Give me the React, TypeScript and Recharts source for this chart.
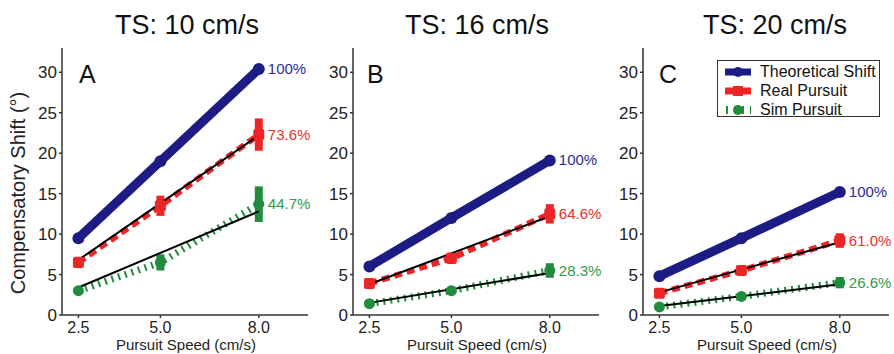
import { ComposedChart, Line, XAxis, YAxis, ErrorBar, Legend } from 'recharts';

// Pursuit speeds (cm/s) on the x axis
const speeds = [2.5, 5.0, 8.0];
const fitSpeeds = [2.5, 8.0];

const panelTitles = ['TS: 10 cm/s', 'TS: 16 cm/s', 'TS: 20 cm/s'];
const panelLetters = ['A', 'B', 'C'];

// compensatory shift (deg), one row per panel
const theoretical = [
  [9.5, 19.0, 30.4],
  [6.0, 12.0, 19.1],
  [4.8, 9.5, 15.2],
];
const realMean = [
  [6.5, 13.5, 22.3],
  [3.9, 7.0, 12.5],
  [2.7, 5.5, 9.2],
];
const realErr = [
  [0.7, 1.25, 2.0],
  [0.4, 0.7, 1.2],
  [0.4, 0.6, 0.9],
];
const simMean = [
  [3.0, 6.5, 13.7],
  [1.4, 3.0, 5.5],
  [1.0, 2.3, 4.0],
];
const simErr = [
  [0.3, 1.0, 2.2],
  [0.3, 0.3, 0.9],
  [0.3, 0.3, 0.7],
];
// linear fits, drawn from 2.5 to 8.0
const realFit = [
  [6.8, 22.2],
  [3.8, 12.2],
  [2.8, 9.0],
];
const simFit = [
  [3.4, 12.8],
  [1.5, 5.2],
  [1.1, 3.8],
];

const theoPct = ['100%', '100%', '100%'];
const realPct = ['73.6%', '64.6%', '61.0%'];
const simPct = ['44.7%', '28.3%', '26.6%'];

const xTicks = [2.5, 5.0, 8.0];
const yTicks = [0, 5, 10, 15, 20, 25, 30];

const legendLabels = ['Theoretical Shift', 'Real Pursuit', 'Sim Pursuit'];

const NAVY = '#1c1c84';
const RED = '#ec2626';
const GREEN = '#218c3e';
const AXIS = '#333';
const FONT = '"Liberation Sans", Arial, Helvetica, sans-serif';

const panelLeft = [0, 291, 581];
const panelWidth = [320, 320, 313];
const titleCenter = [187, 477, 775];
const letterLeft = [79, 76, 78];

const buildRows = (p: number) =>
  speeds.map((s, i) => {
    const k = fitSpeeds.indexOf(s);
    return {
      speed: s,
      theo: theoretical[p][i],
      real: realMean[p][i],
      realErr: realErr[p][i],
      sim: simMean[p][i],
      simErr: simErr[p][i],
      realFit: k < 0 ? null : realFit[p][k],
      simFit: k < 0 ? null : simFit[p][k],
    };
  });

const endLabel = (text: string, color: string) => (props: any) =>
  props.index === speeds.length - 1 ? (
    <text x={props.x + 9} y={props.y + 5} fill={color} fontSize={15} fontFamily={FONT}>
      {text}
    </text>
  ) : (
    <g />
  );

const TheoDot = (props: any) => <circle cx={props.cx} cy={props.cy} r={6} fill={NAVY} />;
const RealDot = (props: any) => (
  <rect x={props.cx - 5.5} y={props.cy - 5.5} width={11} height={11} rx={2} fill={RED} />
);
const SimDot = (props: any) => <circle cx={props.cx} cy={props.cy} r={5.5} fill={GREEN} />;

const renderLegend = () => (
  <div
    style={{
      border: '1.5px solid #333',
      background: '#fff',
      width: 163,
      height: 57,
      boxSizing: 'border-box',
      paddingTop: 1,
      fontFamily: FONT,
      fontSize: 16,
      color: '#111',
    }}
  >
    {legendLabels.map((label, i) => (
      <div key={label} style={{ display: 'flex', alignItems: 'center', height: 19 }}>
        <svg width={42} height={14} style={{ flex: 'none' }}>
          {i === 0 && (
            <>
              <line x1={7} y1={7} x2={33} y2={7} stroke={NAVY} strokeWidth={7} />
              <circle cx={20} cy={7} r={5} fill={NAVY} />
            </>
          )}
          {i === 1 && (
            <>
              <line x1={7} y1={7} x2={33} y2={7} stroke={RED} strokeWidth={7} />
              <rect x={15} y={2} width={10} height={10} fill={RED} />
            </>
          )}
          {i === 2 && (
            <>
              <line x1={8} y1={7} x2={33} y2={7} stroke={GREEN} strokeWidth={8} strokeDasharray="2 6" />
              <circle cx={20} cy={7} r={5} fill={GREEN} />
            </>
          )}
        </svg>
        <span>{label}</span>
      </div>
    ))}
  </div>
);

const Panel = ({ p }: { p: number }) => {
  const rows = buildRows(p);
  const plotW = 246;
  return (
    <div style={{ position: 'absolute', left: panelLeft[p], top: 0 }}>
      <ComposedChart
        width={panelWidth[p]}
        height={354}
        data={rows}
        margin={{ top: 48, right: panelWidth[p] - 62 - plotW, bottom: 0, left: 0 }}
        style={{ overflow: 'visible' }}
      >
        <XAxis
          dataKey="speed"
          type="number"
          domain={[2, 9.5]}
          ticks={xTicks}
          tickFormatter={(v: number) => v.toFixed(1)}
          height={39}
          tickSize={3}
          tickMargin={4}
          stroke={AXIS}
          strokeWidth={1.5}
          tick={{ fontSize: 16, fill: '#222', fontFamily: FONT }}
          label={(props: any) => {
            const vb = props.viewBox;
            return (
              <text
                x={vb.x + vb.width / 2 + 1}
                y={vb.y + 35}
                textAnchor="middle"
                fontSize={15}
                fill="#222"
                fontFamily={FONT}
              >
                Pursuit Speed (cm/s)
              </text>
            );
          }}
        />
        <YAxis
          type="number"
          domain={[0, 33]}
          ticks={yTicks}
          width={62}
          tickSize={3}
          tickMargin={2}
          stroke={AXIS}
          strokeWidth={1.5}
          tick={{ fontSize: 17, fill: '#222', fontFamily: FONT }}
          label={
            p === 0
              ? (props: any) => {
                  const vb = props.viewBox;
                  const cy = vb.y + 145;
                  return (
                    <text
                      x={25}
                      y={cy}
                      transform={`rotate(-90 25 ${cy})`}
                      textAnchor="middle"
                      fontSize={20}
                      fill="#222"
                      fontFamily={FONT}
                    >
                      Compensatory Shift (°)
                    </text>
                  );
                }
              : undefined
          }
        />
        <Line
          dataKey="theo"
          stroke={NAVY}
          strokeWidth={9}
          dot={<TheoDot />}
          isAnimationActive={false}
          label={endLabel(theoPct[p], '#2b2b9c')}
        />
        <Line
          dataKey="real"
          stroke={RED}
          strokeWidth={6}
          strokeDasharray="8 5"
          dot={<RealDot />}
          isAnimationActive={false}
          label={endLabel(realPct[p], '#e8302c')}
        >
          <ErrorBar dataKey="realErr" direction="y" width={0} strokeWidth={8} stroke={RED} />
        </Line>
        <Line
          dataKey="sim"
          stroke={GREEN}
          strokeWidth={7}
          strokeDasharray="2 5"
          dot={<SimDot />}
          isAnimationActive={false}
          label={endLabel(simPct[p], '#2e9a4e')}
        >
          <ErrorBar dataKey="simErr" direction="y" width={0} strokeWidth={8} stroke={GREEN} />
        </Line>
        <Line dataKey="realFit" stroke="#000" strokeWidth={2} dot={false} connectNulls isAnimationActive={false} />
        <Line dataKey="simFit" stroke="#000" strokeWidth={2} dot={false} connectNulls isAnimationActive={false} />
        {p === 2 && (
          <Legend
            layout="vertical"
            align="center"
            verticalAlign="middle"
            content={renderLegend}
            wrapperStyle={{ position: 'absolute', left: 136, top: 60, width: 'auto' }}
          />
        )}
      </ComposedChart>
      <div
        style={{
          position: 'absolute',
          left: titleCenter[p] - panelLeft[p] - 120,
          width: 240,
          top: 12,
          textAlign: 'center',
          fontFamily: FONT,
          fontSize: 27,
          lineHeight: '27px',
          color: '#111',
        }}
      >
        {panelTitles[p]}
      </div>
      <div
        style={{
          position: 'absolute',
          left: letterLeft[p],
          top: 62,
          fontFamily: FONT,
          fontSize: 25,
          lineHeight: '25px',
          color: '#111',
        }}
      >
        {panelLetters[p]}
      </div>
    </div>
  );
};

const App = () => (
  <div style={{ position: 'absolute', left: 0, top: 0, width: 894, height: 354, background: '#fff', overflow: 'hidden' }}>
    {[0, 1, 2].map((p) => (
      <Panel key={p} p={p} />
    ))}
  </div>
);

export default App;
